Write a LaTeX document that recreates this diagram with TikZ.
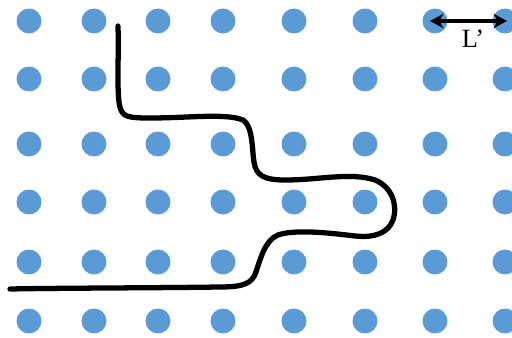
\documentclass[tikz,border=0pt]{standalone}
\usepackage{fontspec}
\setmainfont{Liberation Serif}
\usetikzlibrary{arrows.meta}
\definecolor{dotblue}{RGB}{91,155,213}
\tikzset{
  site/.style={circle, fill=dotblue, inner sep=0pt, minimum size=0.5cm},
  wire/.style={line width=3pt, line cap=round, line join=round},
  span/.style={line width=1.9pt, {Stealth[length=2.7mm,width=2.9mm]}-{Stealth[length=2.7mm,width=2.9mm]}}
}

\begin{document}
\begin{tikzpicture}[x=0.02cm, y=-0.02cm]
    \useasboundingbox (0,0) rectangle (512,338);

    % lattice of sites
    \foreach \x [count=\i] in {29,94,158,223,294,365,435,505}
      \foreach \y [count=\j] in {21,79,144,202,262,321}
        \node[site] (d-\i-\j) at (\x,\y) {};

    % lattice spacing
    \draw[span] ([xshift=-0.1cm]d-7-1.center) -- ([xshift=0.04cm]d-8-1.center);
    \node[font=\fontsize{15}{15}\selectfont] (lbl) at (473,39) {L’};

    % the path
    \draw[wire] (118,26) .. controls (119,60) and (116,100) .. (121,110)
      .. controls (124,117) and (130,118) .. (150,118)
      .. controls (190,118) and (225,113) .. (243,120)
      .. controls (253,126) and (252,150) .. (254,162)
      .. controls (256,175) and (263,180) .. (285,180)
      .. controls (320,180) and (350,172) .. (375,180)
      .. controls (392,187) and (398,205) .. (393,220)
      .. controls (388,233) and (375,238) .. (355,236)
      .. controls (330,233) and (295,229) .. (278,235)
      .. controls (265,240) and (260,260) .. (256,272)
      .. controls (252,283) and (245,287) .. (220,287)
      .. controls (150,288) and (60,288) .. (10,289);
\end{tikzpicture}
\end{document}
